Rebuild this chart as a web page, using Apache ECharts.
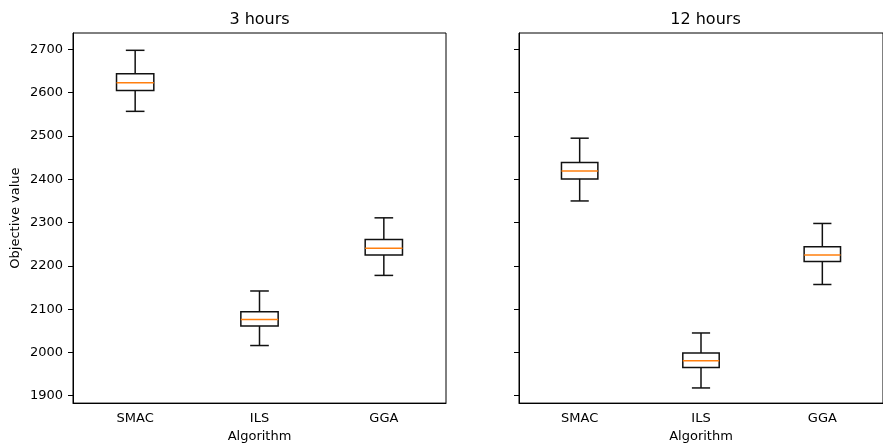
<!DOCTYPE html>
<html><head><meta charset="utf-8">
<script src="https://cdn.jsdelivr.net/npm/echarts@6/dist/echarts.min.js"></script>
<style>html,body{margin:0;padding:0;background:#fff}#c{width:883px;height:448px}</style>
</head><body><div id="c"></div>
<script>
const categories = ['SMAC', 'ILS', 'GGA'];
const panelTitles = ['3 hours', '12 hours'];
const yTicks = [1900, 2000, 2100, 2200, 2300, 2400, 2500, 2600, 2700];
const yMin = 1883, yMax = 2738;

// 3 hours
const low3h  = [2557, 2016, 2178];
const q1_3h  = [2605, 2061, 2225];
const med3h  = [2623, 2076, 2241];
const q3_3h  = [2644, 2094, 2261];
const high3h = [2698, 2142, 2311];
// 12 hours
const low12h  = [2350, 1918, 2157];
const q1_12h  = [2401, 1965, 2210];
const med12h  = [2419, 1981, 2225];
const q3_12h  = [2439, 1999, 2244];
const high12h = [2495, 2045, 2298];

function rows(lo, q1, md, q3, hi) {
  return categories.map((c, i) => [i, lo[i], q1[i], md[i], q3[i], hi[i]]);
}

const FONT = 'DejaVu Sans';
const LW = 1.5;

function renderBox(params, api) {
  const i = api.value(0);
  const pLo = api.coord([i, api.value(1)]);
  const x = pLo[0];
  const yLo = pLo[1];
  const yQ1 = api.coord([i, api.value(2)])[1];
  const yMd = api.coord([i, api.value(3)])[1];
  const yQ3 = api.coord([i, api.value(4)])[1];
  const yHi = api.coord([i, api.value(5)])[1];
  const band = api.size([1, 0])[0];
  const hw = band * 0.15;
  const cw = hw / 2;
  const ls = { stroke: '#111', lineWidth: LW, fill: null };
  return {
    type: 'group',
    children: [
      { type: 'line', shape: { x1: x, y1: yQ1, x2: x, y2: yLo }, style: ls },
      { type: 'line', shape: { x1: x, y1: yQ3, x2: x, y2: yHi }, style: ls },
      { type: 'line', shape: { x1: x - cw, y1: yLo, x2: x + cw, y2: yLo }, style: ls },
      { type: 'line', shape: { x1: x - cw, y1: yHi, x2: x + cw, y2: yHi }, style: ls },
      { type: 'rect', shape: { x: x - hw, y: yQ3, width: 2 * hw, height: yQ1 - yQ3 }, style: { stroke: '#111', lineWidth: LW, fill: null } },
      { type: 'line', shape: { x1: x - hw, y1: yMd, x2: x + hw, y2: yMd }, style: { stroke: '#ff7f0e', lineWidth: LW } }
    ]
  };
}

const panelLefts = [73, 519];
const panelWidth = 373;

function xAxis(idx) {
  return {
    type: 'category', gridIndex: idx, data: categories, boundaryGap: true,
    name: 'Algorithm', nameLocation: 'middle', nameGap: 21,
    nameTextStyle: { fontFamily: FONT, fontSize: 13, color: '#000' },
    axisLine: { lineStyle: { color: '#000', width: 1 } },
    axisTick: { alignWithLabel: true, length: 5, lineStyle: { color: '#000', width: 1 } },
    axisLabel: { fontFamily: FONT, fontSize: 13, color: '#000', margin: 9 },
    splitLine: { show: false }
  };
}
function yAxis(idx) {
  return {
    type: 'value', gridIndex: idx, min: yMin, max: yMax,
    name: idx === 0 ? 'Objective value' : '', nameLocation: 'middle', nameGap: 51,
    nameTextStyle: { fontFamily: FONT, fontSize: 13, color: '#000' },
    axisLine: { show: true, lineStyle: { color: '#000', width: 1 } },
    axisTick: { show: true, length: 5, customValues: yTicks, lineStyle: { color: '#000', width: 1 } },
    axisLabel: { show: idx === 0, customValues: yTicks, formatter: v => String(v), fontFamily: FONT, fontSize: 13, color: '#000', margin: 10 },
    splitLine: { show: false }
  };
}

const chart = echarts.init(document.getElementById('c'), null, { renderer: 'canvas' });
chart.setOption({
  animation: false,
  backgroundColor: '#fff',
  grid: panelLefts.map(l => ({ left: l, top: 33, width: panelWidth, height: 371, show: true, borderColor: '#000', borderWidth: 1, backgroundColor: 'transparent' })),
  xAxis: [xAxis(0), xAxis(1)],
  yAxis: [yAxis(0), yAxis(1)],
  graphic: panelTitles.map((t, i) => ({
    type: 'text', x: panelLefts[i] + panelWidth / 2, y: 20,
    style: { text: t, fontFamily: FONT, fontSize: 16, fill: '#000', textAlign: 'center', textVerticalAlign: 'middle' }
  })),
  series: [
    { type: 'custom', xAxisIndex: 0, yAxisIndex: 0, renderItem: renderBox, encode: { x: 0, y: [1, 2, 3, 4, 5] },
      data: rows(low3h, q1_3h, med3h, q3_3h, high3h) },
    { type: 'custom', xAxisIndex: 1, yAxisIndex: 1, renderItem: renderBox, encode: { x: 0, y: [1, 2, 3, 4, 5] },
      data: rows(low12h, q1_12h, med12h, q3_12h, high12h) }
  ]
});
</script>
</body></html>
